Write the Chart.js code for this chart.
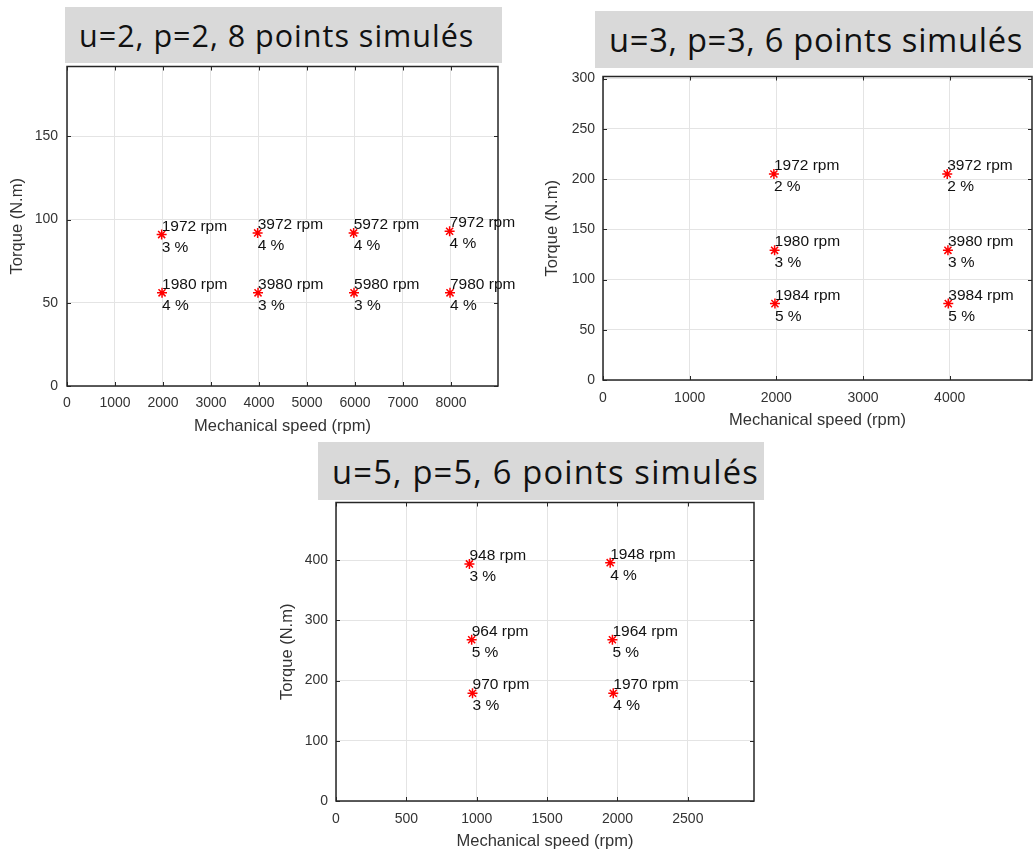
<!DOCTYPE html>
<html>
<head>
<meta charset="utf-8">
<script src="https://cdn.jsdelivr.net/npm/chart.js@4.4.0/dist/chart.umd.min.js"></script>
<style>
body { margin: 0; background: #fff; width: 1033px; height: 851px; overflow: hidden; position: relative; }
canvas { position: absolute; }
.ttl { position: absolute; background: #d9d9d9; font-family: "Open Sans", sans-serif; color: #111;
       display: flex; align-items: center; white-space: nowrap; overflow: hidden; box-sizing: border-box; z-index: 2; }
</style>
</head>
<body>
<div class="ttl" style="left:65px;top:7px;width:437px;height:56px;padding-left:14px;font-size:30.5px;letter-spacing:1px">u=2, p=2, 8 points simulés</div>
<div class="ttl" style="left:595px;top:11px;width:438px;height:57px;padding-left:14px;font-size:32.7px;letter-spacing:0.7px">u=3, p=3, 6 points simulés</div>
<div class="ttl" style="left:318px;top:442px;width:446px;height:58px;padding-left:14px;font-size:32.7px;letter-spacing:1.2px">u=5, p=5, 6 points simulés</div>

<canvas id="c1" width="520" height="376" style="left:0;top:60px"></canvas>
<canvas id="c2" width="499" height="360" style="left:540px;top:70px"></canvas>
<canvas id="c3" width="500" height="355" style="left:270px;top:496px"></canvas>

<script>
// u=2, p=2
var speeds1 = [1972, 3972, 5972, 7972, 1980, 3980, 5980, 7980];
var torques1 = [91, 92, 92, 93, 56, 56, 56, 56];
var slips1 = [3, 4, 4, 4, 4, 3, 3, 4];
var xTicks1 = [0, 1000, 2000, 3000, 4000, 5000, 6000, 7000, 8000];
var yTicks1 = [0, 50, 100, 150];

// u=3, p=3
var speeds2 = [1972, 3972, 1980, 3980, 1984, 3984];
var torques2 = [205, 205, 129, 129, 76, 76];
var slips2 = [2, 2, 3, 3, 5, 5];
var xTicks2 = [0, 1000, 2000, 3000, 4000];
var yTicks2 = [0, 50, 100, 150, 200, 250, 300];

// u=5, p=5
var speeds3 = [948, 1948, 964, 1964, 970, 1970];
var torques3 = [394, 396, 268, 268, 179, 179];
var slips3 = [3, 4, 5, 5, 3, 4];
var xTicks3 = [0, 500, 1000, 1500, 2000, 2500];
var yTicks3 = [0, 100, 200, 300, 400];

var xLabel = 'Mechanical speed (rpm)';
var yLabel = 'Torque (N.m)';
var FONT = '"Liberation Sans", Arial, sans-serif';

// box, inward ticks and point labels, drawn the matlab way
var matlabBox = {
    id: 'matlabBox',
    afterDatasetsDraw: function (chart) {
        var ctx = chart.ctx;
        var a = chart.chartArea;
        var xs = chart.scales.x, ys = chart.scales.y;
        ctx.save();
        ctx.strokeStyle = '#262626';
        ctx.lineWidth = 1;
        ctx.beginPath();
        xs.ticks.forEach(function (t) {
            var px = Math.round(xs.getPixelForValue(t.value)) + 0.5;
            ctx.moveTo(px, a.bottom); ctx.lineTo(px, a.bottom - 4);
            ctx.moveTo(px, a.top); ctx.lineTo(px, a.top + 4);
        });
        ys.ticks.forEach(function (t) {
            var py = Math.round(ys.getPixelForValue(t.value)) + 0.5;
            ctx.moveTo(a.left, py); ctx.lineTo(a.left + 4, py);
            ctx.moveTo(a.right, py); ctx.lineTo(a.right - 4, py);
        });
        ctx.stroke();
        ctx.lineWidth = 1.5;
        ctx.strokeRect(a.left, a.top, a.right - a.left, a.bottom - a.top);

        var ds = chart.data.datasets[0];
        var meta = chart.getDatasetMeta(0);
        ctx.fillStyle = '#111';
        ctx.font = '15.5px ' + FONT;
        ctx.textAlign = 'left';
        ctx.textBaseline = 'alphabetic';
        meta.data.forEach(function (el, i) {
            ctx.fillText(ds.speeds[i] + ' rpm', el.x, el.y - 4);
            ctx.fillText(ds.slips[i] + ' %', el.x, el.y + 17);
        });
        ctx.restore();
    }
};

function makeChart(id, speeds, torques, slips, o) {
    var pts = speeds.map(function (s, i) { return { x: s, y: torques[i] }; });
    return new Chart(document.getElementById(id), {
        type: 'scatter',
        data: {
            datasets: [{
                data: pts,
                speeds: speeds,
                slips: slips,
                pointStyle: 'star',
                radius: 5,
                borderColor: '#ff0000',
                backgroundColor: '#ff0000',
                borderWidth: 1.5
            }]
        },
        options: {
            responsive: false,
            animation: false,
            layout: { padding: { top: 5, right: o.padRight, bottom: 0, left: 0 } },
            plugins: { legend: { display: false }, tooltip: { enabled: false } },
            scales: {
                x: {
                    min: 0, max: o.xMax,
                    afterBuildTicks: function (s) { s.ticks = o.xTicks.map(function (v) { return { value: v }; }); },
                    afterFit: function (s) { s.height = 50; s.paddingLeft = 0; s.paddingRight = 0; },
                    grid: { color: '#e4e4e4', drawTicks: false },
                    border: { display: false },
                    ticks: {
                        maxRotation: 0, autoSkip: false,
                        padding: o.xTickPad, color: '#333', font: { family: FONT, size: 14 },
                        callback: function (v) { return String(v); }
                    },
                    title: { display: true, text: xLabel, color: '#333', padding: 0,
                             font: { family: FONT, size: 16.5 } }
                },
                y: {
                    min: 0, max: o.yMax,
                    afterBuildTicks: function (s) { s.ticks = o.yTicks.map(function (v) { return { value: v }; }); },
                    afterFit: function (s) { s.width = o.yWidth; s.paddingTop = 0; s.paddingBottom = 0; },
                    grid: { color: '#e4e4e4', drawTicks: false },
                    border: { display: false },
                    ticks: {
                        padding: o.yTickPad, color: '#333', font: { family: FONT, size: 14 },
                        callback: function (v) { return String(v); }
                    },
                    title: { display: true, text: yLabel, color: '#333', padding: { top: o.yTitlePad, bottom: 0 },
                             font: { family: FONT, size: 16.5 } }
                }
            }
        },
        plugins: [matlabBox]
    });
}

makeChart('c1', speeds1, torques1, slips1,
    { xMax: 8980, xTicks: xTicks1, yMax: 192, yTicks: yTicks1, yWidth: 67, padRight: 22, yTitlePad: 8, xTickPad: 9, yTickPad: 9 });
makeChart('c2', speeds2, torques2, slips2,
    { xMax: 4950, xTicks: xTicks2, yMax: 302, yTicks: yTicks2, yWidth: 63, padRight: 7, yTitlePad: 3, xTickPad: 10, yTickPad: 8 });
makeChart('c3', speeds3, torques3, slips3,
    { xMax: 2970, xTicks: xTicks3, yMax: 496, yTicks: yTicks3, yWidth: 66, padRight: 16, yTitlePad: 8, xTickPad: 10, yTickPad: 8 });
</script>
</body>
</html>
